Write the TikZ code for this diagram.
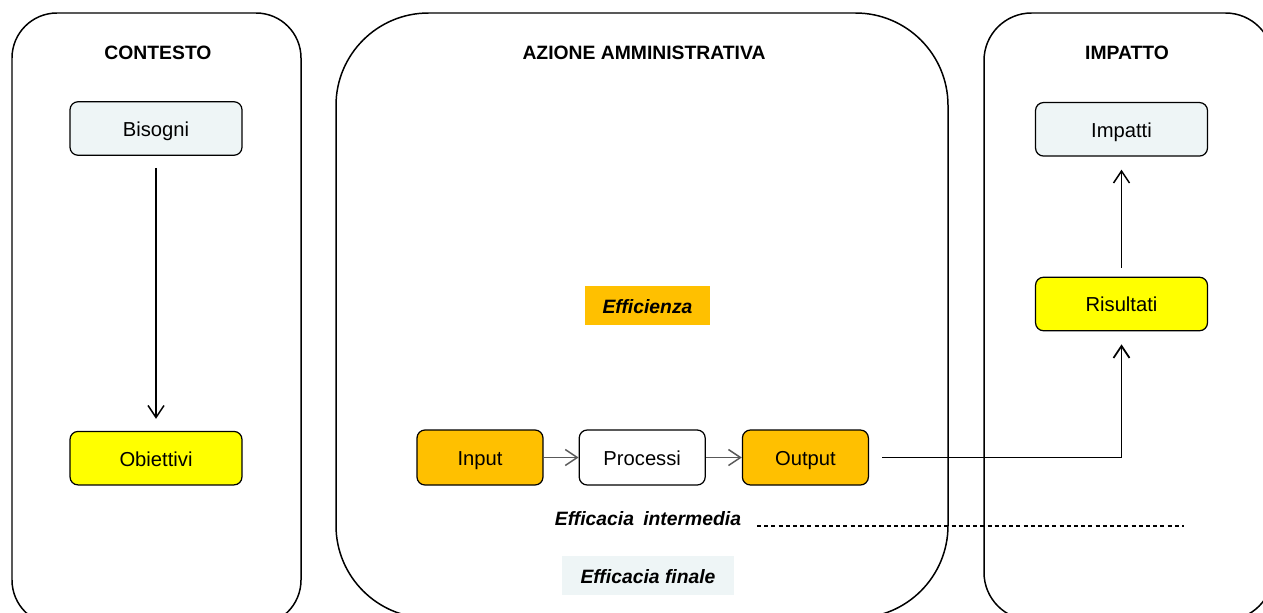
\documentclass[tikz,border=0pt]{standalone}
\usepackage{fontspec}
\setmainfont{Liberation Sans}
\usetikzlibrary{positioning,arrows.meta}
\definecolor{paleblue}{RGB}{238,245,246}
\definecolor{amber}{RGB}{255,192,0}
\definecolor{brightyellow}{RGB}{255,255,0}

\begin{document}
\begin{tikzpicture}[x=0.02cm, y=-0.02cm,
    panel/.style={draw=black, line width=0.85pt},
    title/.style={font=\fontsize{11}{13}\selectfont\bfseries},
    boxnode/.style={draw=black, line width=0.7pt, rounded corners=0.16cm, minimum width=3.44cm, minimum height=1.07cm, text height=1.7ex, text depth=0pt, font=\fontsize{11.5}{14}\selectfont},
    flownode/.style={boxnode, minimum width=2.52cm, minimum height=1.1cm},
    tagnode/.style={inner sep=0pt, minimum height=0.78cm, text height=1.7ex, text depth=0pt, font=\fontsize{11}{13}\selectfont\bfseries\itshape},
    arr/.style={-{Straight Barb[length=2.4mm,width=3.2mm]}, line width=0.85pt}
    ]
        \clip (0,0) rectangle (1263,612);

        %Panels
        \draw[panel, rounded corners=0.9cm] (12,13) rectangle (301,625);
        \draw[panel, rounded corners=1.85cm] (336,13) rectangle (948,618);
        \draw[panel, rounded corners=0.95cm] (984,13) rectangle (1273,620);
        \node[title] (tctx) at (158,53)  {CONTESTO};
        \node[title] (tazn) at (644,53)  {AZIONE AMMINISTRATIVA};
        \node[title] (timp) at (1127,53) {IMPATTO};

        %Nodes
        \node[boxnode, fill=paleblue] 
            (bis) at (156,128.5)   {Bisogni};
        \node[boxnode, fill=brightyellow] 
            (obi) [below=5.5cm of bis]   {Obiettivi};
        \node[boxnode, fill=brightyellow] 
            (ris) at (1121.5,304)   {Risultati};
        \node[boxnode, fill=paleblue] 
            (imp) [above=2.4cm of ris]   {Impatti};
        \node[flownode, fill=amber] 
            (inp) at (480,457.5)   {Input};
        \node[flownode, fill=white] 
            (proc) [right=0.7cm of inp]   {Processi};
        \node[flownode, fill=amber] 
            (out) [right=0.72cm of proc]   {Output};
        \node[tagnode, fill=amber, minimum width=2.5cm] 
            (eff) at (647.5,305.5)   {Efficienza};
        \node[tagnode, fill=paleblue, minimum width=3.44cm] 
            (finale) at (648,575.5)   {Efficacia finale};
        \node[tagnode, minimum height=0pt] 
            (interm) at (648,518)   {Efficacia\hspace{0.2em} intermedia};
        \coordinate (dashA) at (757,526);
        \coordinate (dashB) at (1184,526);

        %Lines
        \draw[arr, shorten <=0.24cm, shorten >=0.24cm] 
            (bis.south) -- (obi.north);
        \draw[arr, draw=black!65] 
            (inp.east) -- (proc.west);
        \draw[arr, draw=black!65] 
            (proc.east) -- (out.west);
        \draw[arr, line width=1pt, shorten <=0.26cm, shorten >=0.26cm] 
            (out.east) -| (ris.south);
        \draw[arr, shorten <=0.18cm, shorten >=0.26cm] 
            (ris.north) -- (imp.south);
        \draw[line width=0.7pt, dash pattern=on 2.3pt off 1.8pt] 
            (dashA) -- (dashB);
    \end{tikzpicture}
\end{document}
